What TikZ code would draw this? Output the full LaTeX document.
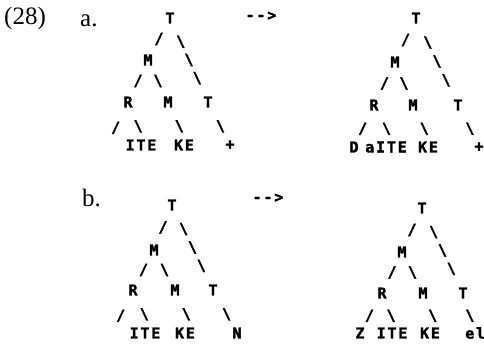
\documentclass[tikz,border=0pt]{standalone}
\usepackage{fontspec}
\setmainfont{Liberation Serif}
\newfontfamily\twfont[LetterSpace=12,FakeBold=2]{DejaVu Sans Mono Bold}
\usepackage{tikz}

\tikzset{
  lab/.style={font=\twfont\fontsize{15}{16}\selectfont, inner sep=0pt},
  num/.style={font=\fontsize{25}{27}\selectfont, inner sep=0pt, anchor=base west},
}

\begin{document}
\begin{tikzpicture}[x=1pt,y=-1pt]
  \useasboundingbox (0,0) rectangle (484,344);

  \node[num] (ex) at (4,25) {(28)};
  \node[num] (a) at (80,27) {a.};
  \node[num] (b) at (82,207) {b.};

  \node[lab] (arrA) at (261,16) {-{}-{}>};
  \node[lab] (arrB) at (268,198) {-{}-{}>};

  % (a), before
  \node[lab] (laT) at (170,18) {T};
  \node[lab] (laM) at (148,60) {M};
  \node[lab] (laR) at (128,102) {R};
  \node[lab] (laMb) at (168,102) {M};
  \node[lab] (laTb) at (208,102) {T};
  \coordinate (laL) at (106,148);
  \node[lab] (laITE) at (141,145) {ITE};
  \node[lab] (laKE) at (184,145) {KE};
  \node[lab] (laPlus) at (230,145) {+};

  \path (laT) -- node[lab]{/} (laM);
  \path (laT) -- node[lab,pos=.25]{\textbackslash} node[lab]{\textbackslash} node[lab,pos=.75]{\textbackslash} (laTb);
  \path (laM) -- node[lab]{/} (laR);
  \path (laM) -- node[lab]{\textbackslash} (laMb);
  \path (laR) -- node[lab]{/} (laL);
  \path (laR) -- node[lab]{\textbackslash} ([xshift=5pt]laITE.center);
  \path (laMb) -- node[lab]{\textbackslash} ([xshift=4pt]laKE.center);
  \path (laTb) -- node[lab]{\textbackslash} (laPlus.center);

  % (a), after
  \node[lab] (raT) at (416,18) {T};
  \node[lab] (raM) at (395,62) {M};
  \node[lab] (raR) at (374,105) {R};
  \node[lab] (raMb) at (413,105) {M};
  \node[lab] (raTb) at (458,105) {T};
  \node[lab] (raD) at (354,147) {D};
  \node[lab] (raITE) at (386,147) {aITE};
  \node[lab] (raKE) at (428,147) {KE};
  \node[lab] (raPlus) at (479,147) {+};

  \path (raT) -- node[lab]{/} (raM);
  \path (raT) -- node[lab,pos=.25]{\textbackslash} node[lab]{\textbackslash} node[lab,pos=.75]{\textbackslash} (raTb);
  \path (raM) -- node[lab]{/} (raR);
  \path (raM) -- node[lab]{\textbackslash} (raMb);
  \path (raR) -- node[lab]{/} (raD.center);
  \path (raR) -- node[lab]{\textbackslash} ([xshift=10pt]raITE.center);
  \path (raMb) -- node[lab]{\textbackslash} ([xshift=5pt]raKE.center);
  \path (raTb) -- node[lab]{\textbackslash} (raPlus.center);

  % (b), before
  \node[lab] (lbT) at (172,205) {T};
  \node[lab] (lbM) at (154,250) {M};
  \node[lab] (lbR) at (133,290) {R};
  \node[lab] (lbMb) at (175,290) {M};
  \node[lab] (lbTb) at (213,290) {T};
  \coordinate (lbL) at (111,336);
  \node[lab] (lbITE) at (145,333) {ITE};
  \node[lab] (lbKE) at (185,333) {KE};
  \node[lab] (lbN) at (237,333) {N};

  \path (lbT) -- node[lab]{/} (lbM);
  \path (lbT) -- node[lab,pos=.25]{\textbackslash} node[lab]{\textbackslash} node[lab,pos=.75]{\textbackslash} (lbTb);
  \path (lbM) -- node[lab]{/} (lbR);
  \path (lbM) -- node[lab]{\textbackslash} (lbMb);
  \path (lbR) -- node[lab]{/} (lbL);
  \path (lbR) -- node[lab]{\textbackslash} ([xshift=8pt]lbITE.center);
  \path (lbMb) -- node[lab]{\textbackslash} ([xshift=10pt]lbKE.center);
  \path (lbTb) -- node[lab]{\textbackslash} (lbN.center);

  % (b), after
  \node[lab] (rbT) at (422,208) {T};
  \node[lab] (rbM) at (402,252) {M};
  \node[lab] (rbR) at (382,293) {R};
  \node[lab] (rbMb) at (423,293) {M};
  \node[lab] (rbTb) at (463,293) {T};
  \node[lab] (rbZ) at (360,333) {Z};
  \node[lab] (rbITE) at (392,333) {ITE};
  \node[lab] (rbKE) at (430,333) {KE};
  \node[lab,anchor=west] (rbEl) at (465,333) {el};

  \path (rbT) -- node[lab]{/} (rbM);
  \path (rbT) -- node[lab,pos=.25]{\textbackslash} node[lab]{\textbackslash} node[lab,pos=.75]{\textbackslash} (rbTb);
  \path (rbM) -- node[lab]{/} (rbR);
  \path (rbM) -- node[lab]{\textbackslash} (rbMb);
  \path (rbR) -- node[lab]{/} (rbZ.center);
  \path (rbR) -- node[lab]{\textbackslash} ([xshift=6pt]rbITE.center);
  \path (rbMb) -- node[lab]{\textbackslash} ([xshift=10pt]rbKE.center);
  \path (rbTb) -- node[lab]{\textbackslash} (rbEl.center);
\end{tikzpicture}
\end{document}
